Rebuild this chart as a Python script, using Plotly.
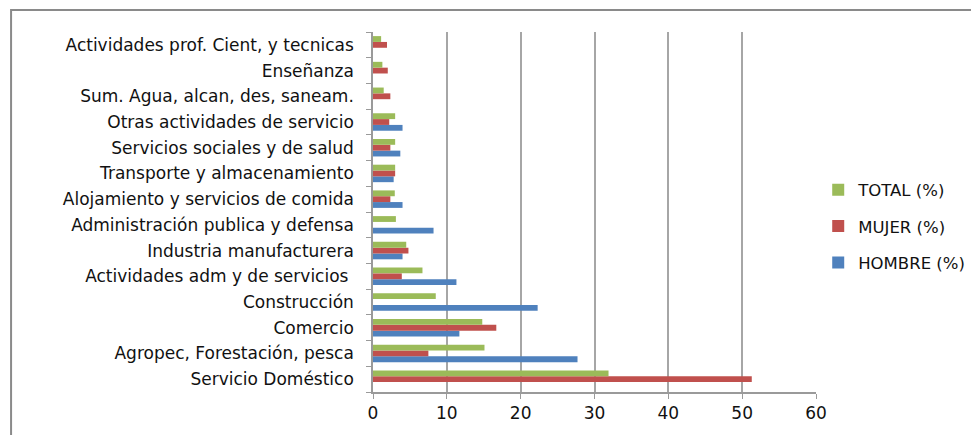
import plotly.graph_objects as go

# categories listed bottom -> top, as on the chart
SECTORES = [
    "Servicio Doméstico",
    "Agropec, Forestación, pesca",
    "Comercio",
    "Construcción",
    "Actividades adm y de servicios ",
    "Industria manufacturera",
    "Administración publica y defensa",
    "Alojamiento y servicios de comida",
    "Transporte y almacenamiento",
    "Servicios sociales y de salud",
    "Otras actividades de servicio",
    "Sum. Agua, alcan, des, saneam.",
    "Enseñanza",
    "Actividades prof. Cient, y tecnicas",
]

HOMBRE = [0, 27.7, 11.7, 22.3, 11.3, 4.0, 8.2, 4.0, 2.8, 3.7, 4.0, 0, 0, 0]
MUJER  = [51.3, 7.5, 16.7, 0, 3.9, 4.8, 0, 2.35, 3.0, 2.35, 2.2, 2.35, 2.0, 1.9]
TOTAL  = [31.9, 15.1, 14.8, 8.5, 6.7, 4.5, 3.1, 2.95, 3.0, 3.0, 3.0, 1.45, 1.27, 1.1]

# (name, values, colour, legend rank)
SERIES = [
    ("HOMBRE (%)", HOMBRE, "#4F81BD", 3),
    ("MUJER (%)",  MUJER,  "#C0504D", 2),
    ("TOTAL (%)",  TOTAL,  "#9BBB59", 1),
]

FONT = "DejaVu Sans, sans-serif"

fig = go.Figure()
for name, vals, col, rank in SERIES:
    fig.add_trace(go.Bar(
        y=SECTORES, x=vals, name=name, orientation="h",
        marker_color=col, marker_line_width=0,
        legendgroup=name, legendrank=rank,
    ))

# the page body adds an 8px offset, so margins are shifted by that
fig.update_layout(
    width=979, height=435,
    barmode="group",
    bargap=0.32, bargroupgap=0,
    plot_bgcolor="white", paper_bgcolor="white",
    font=dict(family=FONT, size=17, color="#111111"),
    margin=dict(l=365, r=171, t=24, b=51, autoexpand=False),
    showlegend=True,
    legend=dict(
        x=1.005, xanchor="left", y=0.46, yanchor="middle",
        traceorder="grouped", tracegroupgap=12,
        font=dict(size=16.5), bgcolor="rgba(0,0,0,0)",
    ),
)

fig.update_xaxes(
    range=[0, 60], dtick=10, automargin=False,
    showgrid=True, gridcolor="#a6a6a6", gridwidth=1.5,
    showline=True, linecolor="#9a9a9a", linewidth=1.5,
    ticks="outside", ticklen=5, tickcolor="#9a9a9a",
    zeroline=False, fixedrange=True,
)
fig.update_yaxes(
    type="category", automargin=False,
    showline=True, linecolor="#9a9a9a", linewidth=1.5,
    ticks="outside", tickson="boundaries", ticklen=5, tickcolor="#9a9a9a",
    showgrid=False, ticklabelstandoff=14,
)

# outer chart border (Excel chart area frame)
fig.add_shape(
    type="rect", xref="paper", yref="paper",
    x0=-0.817, x1=1.5, y0=-0.5, y1=1.061,
    line=dict(color="#8a8a8a", width=2), layer="below",
)

fig.write_html("out.html")
